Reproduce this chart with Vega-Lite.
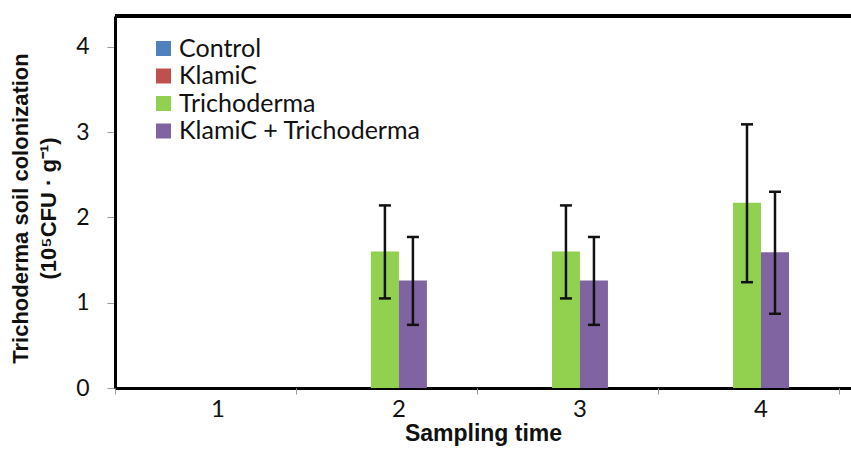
{
  "$schema": "https://vega.github.io/schema/vega-lite/v6.json",
  "width": 736,
  "height": 372,
  "padding": {"left": 115, "top": 16, "right": 0, "bottom": 62},
  "autosize": {"type": "none"},
  "background": "white",
  "config": {"view": {"stroke": null}, "font": "Lato"},
  "data": {
    "values": [
      {"time": "1", "series": "Trichoderma", "mean": 0, "lower": 0, "upper": 0},
      {"time": "1", "series": "KlamiC + Trichoderma", "mean": 0, "lower": 0, "upper": 0},
      {"time": "2", "series": "Trichoderma", "mean": 1.6, "lower": 1.05, "upper": 2.14},
      {"time": "2", "series": "KlamiC + Trichoderma", "mean": 1.26, "lower": 0.74, "upper": 1.77},
      {"time": "3", "series": "Trichoderma", "mean": 1.6, "lower": 1.05, "upper": 2.14},
      {"time": "3", "series": "KlamiC + Trichoderma", "mean": 1.26, "lower": 0.74, "upper": 1.77},
      {"time": "4", "series": "Trichoderma", "mean": 2.17, "lower": 1.24, "upper": 3.09},
      {"time": "4", "series": "KlamiC + Trichoderma", "mean": 1.59, "lower": 0.87, "upper": 2.3}
    ]
  },
  "resolve": {"scale": {"x": "independent"}, "axis": {"x": "independent"}},
  "layer": [
    {
      "layer": [
        {
          "mark": {"type": "bar"},
          "encoding": {
            "y": {
              "field": "mean",
              "type": "quantitative",
              "scale": {"domain": [0, 4.36], "nice": false},
              "axis": {
                "values": [0, 1, 2, 3, 4],
                "format": "d",
                "grid": false,
                "title": ["Trichoderma soil colonization", "(10⁵CFU · g⁻¹)"],
                "titleFont": "Liberation Sans",
                "titleFontWeight": "bold",
                "titleFontSize": 22,
                "titleLineHeight": 28,
                "titleColor": "#111",
                "titleAngle": -90,
                "titleAlign": "center",
                "titleBaseline": "bottom",
                "titleX": -83,
                "titleY": 192,
                "labelFontSize": 23,
                "labelColor": "#111",
                "labelPadding": 18,
                "tickColor": "#999",
                "tickSize": 8,
                "domainColor": "black",
                "domainWidth": 3
              }
            },
            "color": {
              "field": "series",
              "type": "nominal",
              "scale": {
                "domain": ["Control", "KlamiC", "Trichoderma", "KlamiC + Trichoderma"],
                "range": ["#4F81BD", "#C0504D", "#92D050", "#8064A2"]
              },
              "legend": {
                "title": null,
                "orient": "none",
                "legendX": 36,
                "legendY": 20,
                "padding": 0,
                "symbolType": "square",
                "symbolSize": 225,
                "symbolStrokeWidth": 0,
                "symbolOpacity": 1,
                "labelFontSize": 25,
                "labelLimit": 400,
                "labelColor": "#111",
                "labelOffset": 3,
                "rowPadding": 1.5
              }
            }
          }
        },
        {
          "transform": [{"filter": "datum.mean > 0"}],
          "mark": {"type": "rule", "color": "#111", "strokeWidth": 2.5},
          "encoding": {
            "y": {"field": "lower", "type": "quantitative"},
            "y2": {"field": "upper"}
          }
        },
        {
          "transform": [{"filter": "datum.mean > 0"}],
          "mark": {"type": "tick", "color": "#111", "size": 12, "thickness": 2.5, "opacity": 1},
          "encoding": {"y": {"field": "lower", "type": "quantitative"}}
        },
        {
          "transform": [{"filter": "datum.mean > 0"}],
          "mark": {"type": "tick", "color": "#111", "size": 12, "thickness": 2.5, "opacity": 1},
          "encoding": {"y": {"field": "upper", "type": "quantitative"}}
        }
      ],
      "encoding": {
        "x": {
          "field": "time",
          "type": "nominal",
          "scale": {"domain": ["1", "2", "3", "4"], "paddingInner": 0.6906, "paddingOuter": 0.378, "align": 0.547},
          "axis": {
            "orient": "bottom",
            "title": "Sampling time",
            "titleFont": "Liberation Sans",
            "titleFontWeight": "bold",
            "titleFontSize": 23,
            "titleColor": "#111",
            "titlePadding": 1,
            "labelAngle": 0,
            "labelFontSize": 24,
            "labelColor": "#111",
            "labelPadding": 9,
            "ticks": false,
            "domainColor": "black",
            "domainWidth": 3
          }
        },
        "xOffset": {
          "field": "series",
          "type": "nominal",
          "scale": {"domain": ["Trichoderma", "KlamiC + Trichoderma"], "paddingInner": 0, "paddingOuter": 0}
        }
      }
    },
    {
      "mark": {"type": "point", "opacity": 0},
      "encoding": {
        "x": {
          "field": "time",
          "type": "nominal",
          "scale": {"domain": ["1", "2", "3", "4"], "paddingInner": 0, "paddingOuter": 0.033, "align": 0},
          "axis": {
            "orient": "bottom",
            "title": null,
            "labels": false,
            "domain": false,
            "tickBand": "extent",
            "tickColor": "#999",
            "tickSize": 6
          }
        },
        "y": {"field": "mean", "type": "quantitative"}
      }
    },
    {
      "mark": {"type": "rule", "color": "black", "strokeWidth": 3},
      "encoding": {"y": {"datum": 4.36}}
    }
  ]
}
